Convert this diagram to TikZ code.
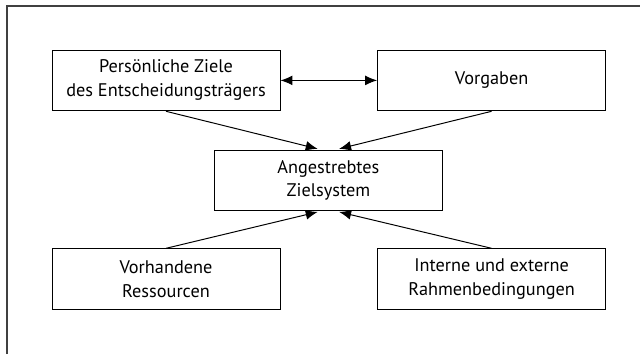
\documentclass[tikz,border=0pt]{standalone}
\usepackage{fontspec}
\setmainfont{PT Sans}
\usetikzlibrary{arrows.meta}
\begin{document}
\begin{tikzpicture}[
    box/.style={rectangle, draw, line width=0.7pt, minimum height=1.52cm, minimum width=5.7cm, align=center, font=\fontsize{13}{17}\selectfont},
    >={Latex[length=8.5pt,width=7pt]}
]
\useasboundingbox (0,0) rectangle (16,8.85);
% Rahmen
\draw[line width=1pt, black!75] (0.175,0) -- (0.175,8.7) -- (16,8.7);

% Elemente des Zielsystems
\node[box] at (4.15,6.84) (ziele) {Persönliche Ziele\\des Entscheidungsträgers};
\node[box] at (12.29,6.84) (vorgaben) {Vorgaben};
\node[box] at (8.21,4.34) (ziel) {Angestrebtes\\Zielsystem};
\node[box] at (4.15,1.87) (ressourcen) {Vorhandene\\Ressourcen};
\node[box] at (12.29,1.87) (rahmen) {Interne und externe\\Rahmenbedingungen};

% Verbindungspfeile
\draw[<->, line width=0.7pt] (ziele) -- (vorgaben);
\draw[->, line width=0.7pt, shorten >=2pt] (ziele.south) -- ([xshift=-0.2cm]ziel.north);
\draw[->, line width=0.7pt, shorten >=2pt] (vorgaben.south) -- ([xshift=0.2cm]ziel.north);
\draw[->, line width=0.7pt, shorten >=2pt] (ressourcen.north) -- ([xshift=-0.2cm]ziel.south);
\draw[->, line width=0.7pt, shorten >=2pt] (rahmen.north) -- ([xshift=0.2cm]ziel.south);
\end{tikzpicture}
\end{document}
